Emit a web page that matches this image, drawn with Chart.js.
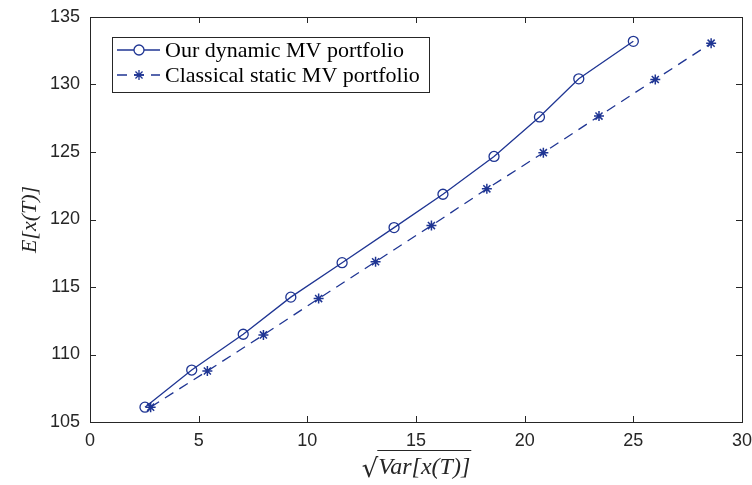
<!DOCTYPE html>
<html>
<head>
<meta charset="utf-8">
<script src="https://cdn.jsdelivr.net/npm/chart.js@4"></script>
<style>
  html, body { margin: 0; padding: 0; background: #fff; }
  #wrap { width: 752px; height: 485px; }
</style>
</head>
<body>
<div id="wrap"><canvas id="myChart"></canvas></div>
<script>
// data
const dynStd = [2.53, 4.68, 7.05, 9.24, 11.60, 13.99, 16.24, 18.59, 20.68, 22.49, 25.0];
const dynMean = [106.1, 108.85, 111.5, 114.25, 116.8, 119.4, 121.87, 124.67, 127.6, 130.42, 133.2];
const staStd = [2.79, 5.40, 7.98, 10.52, 13.14, 15.71, 18.26, 20.86, 23.42, 26.01, 28.58];
const staMean = [106.1, 108.78, 111.45, 114.14, 116.87, 119.55, 122.27, 124.95, 127.66, 130.37, 133.06];
const seriesNames = ['Our dynamic MV portfolio', 'Classical static MV portfolio'];
const xTicks = [0, 5, 10, 15, 20, 25, 30];
const yTicks = [105, 110, 115, 120, 125, 130, 135];

const blue = '#1f3593';
const axisColor = '#262626';

const toPoints = (xs, ys) => xs.map((v, i) => ({ x: v, y: ys[i] }));

// MATLAB style box with inward ticks
const boxPlugin = {
  id: 'box',
  afterDraw(chart) {
    const { ctx, chartArea: a, scales } = chart;
    ctx.save();
    ctx.strokeStyle = axisColor;
    ctx.lineWidth = 1;
    ctx.strokeRect(Math.round(a.left) + 0.5, Math.round(a.top) + 0.5,
      Math.round(a.right - a.left), Math.round(a.bottom - a.top));
    ctx.beginPath();
    xTicks.forEach((t) => {
      const px = Math.round(scales.x.getPixelForValue(t)) + 0.5;
      ctx.moveTo(px, a.bottom); ctx.lineTo(px, a.bottom - 6);
      ctx.moveTo(px, a.top); ctx.lineTo(px, a.top + 6);
    });
    yTicks.forEach((t) => {
      const py = Math.round(scales.y.getPixelForValue(t)) + 0.5;
      ctx.moveTo(a.left, py); ctx.lineTo(a.left + 6, py);
      ctx.moveTo(a.right, py); ctx.lineTo(a.right - 6, py);
    });
    ctx.stroke();

    // x axis title: square root of Var[x(T)]
    const cx = (a.left + a.right) / 2;
    const base = a.bottom + 52;
    ctx.fillStyle = axisColor;
    ctx.textBaseline = 'alphabetic';
    ctx.font = 'italic 24px "Liberation Serif"';
    const body = 'Var[x(T)]';
    const bw = ctx.measureText(body).width;
    ctx.font = '26px "DejaVu Serif"';
    const rw = ctx.measureText('√').width;
    const start = cx - (bw + rw) / 2;
    ctx.fillText('√', start, base + 3);
    ctx.font = 'italic 24px "Liberation Serif"';
    ctx.fillText(body, start + rw, base);
    ctx.beginPath();
    ctx.moveTo(start + rw - 1, base - 23.5);
    ctx.lineTo(start + rw + bw + 1, base - 23.5);
    ctx.stroke();
    ctx.restore();
  }
};

// legend box drawn inside the plot, top-left
const legendPlugin = {
  id: 'innerLegend',
  afterDraw(chart) {
    const { ctx, chartArea: a } = chart;
    const x0 = a.left + 22, y0 = a.top + 20, w = 317, h = 55;
    ctx.save();
    ctx.fillStyle = '#fff';
    ctx.fillRect(x0, y0, w, h);
    ctx.strokeStyle = axisColor;
    ctx.lineWidth = 1;
    ctx.strokeRect(x0 + 0.5, y0 + 0.5, w, h);
    chart.data.datasets.forEach((ds, i) => {
      const cy = y0 + 13 + i * 25;
      ctx.strokeStyle = ds.borderColor;
      ctx.lineWidth = ds.borderWidth;
      ctx.setLineDash(ds.borderDash || []);
      ctx.beginPath();
      ctx.moveTo(x0 + 5, cy);
      ctx.lineTo(x0 + 48, cy);
      ctx.stroke();
      ctx.setLineDash([]);
      Chart.helpers.drawPoint(ctx, {
        pointStyle: ds.pointStyle, radius: ds.pointRadius, rotation: 0,
        borderWidth: ds.pointBorderWidth
      }, x0 + 27, cy);
      ctx.fillStyle = '#000';
      ctx.font = '22px "Liberation Serif"';
      ctx.textBaseline = 'middle';
      ctx.fillText(ds.label, x0 + 53, cy + 1);
    });
    ctx.restore();
  }
};

const ctx = document.getElementById('myChart').getContext('2d');
const myChart = new Chart(ctx, {
  type: 'scatter',
  data: {
    datasets: [
      {
        label: seriesNames[0],
        data: toPoints(dynStd, dynMean),
        showLine: true,
        borderColor: blue,
        backgroundColor: 'rgba(0,0,0,0)',
        borderWidth: 1.3,
        pointStyle: 'circle',
        pointRadius: 5,
        pointBorderWidth: 1.3,
        pointBorderColor: blue,
      },
      {
        label: seriesNames[1],
        data: toPoints(staStd, staMean),
        showLine: true,
        borderColor: blue,
        backgroundColor: 'rgba(0,0,0,0)',
        borderWidth: 1.3,
        borderDash: [10, 7],
        pointStyle: 'star',
        pointRadius: 5,
        pointBorderWidth: 1.5,
        pointBorderColor: blue,
      },
    ],
  },
  options: {
    responsive: true,
    maintainAspectRatio: false,
    animation: false,
    layout: { padding: { top: 17, right: 0, left: 0, bottom: 0 } },
    plugins: {
      legend: { display: false },
      tooltip: { enabled: false },
    },
    scales: {
      x: {
        type: 'linear',
        min: 0,
        max: 30,
        afterBuildTicks: (s) => { s.ticks = xTicks.map((v) => ({ value: v })); },
        afterFit: (s) => { s.height = 63; s.paddingRight = 10; s.paddingLeft = 0; },
        grid: { drawOnChartArea: false, drawTicks: false },
        border: { display: false },
        ticks: {
          padding: 8,
          color: axisColor,
          font: { family: '"Liberation Sans"', size: 18 },
        },
        title: { display: false },
      },
      y: {
        type: 'linear',
        min: 105,
        max: 135,
        afterBuildTicks: (s) => { s.ticks = yTicks.map((v) => ({ value: v })); },
        afterFit: (s) => { s.width = 90; s.paddingTop = 0; s.paddingBottom = 0; },
        grid: { drawOnChartArea: false, drawTicks: false },
        border: { display: false },
        ticks: {
          padding: 10,
          color: axisColor,
          font: { family: '"Liberation Sans"', size: 18 },
        },
        title: {
          display: true,
          text: 'E[x(T)]',
          color: axisColor,
          font: { family: '"Liberation Serif"', size: 22, style: 'italic' },
          padding: { top: 17, bottom: 0 },
        },
      },
    },
  },
  plugins: [boxPlugin, legendPlugin],
});
</script>
</body>
</html>
